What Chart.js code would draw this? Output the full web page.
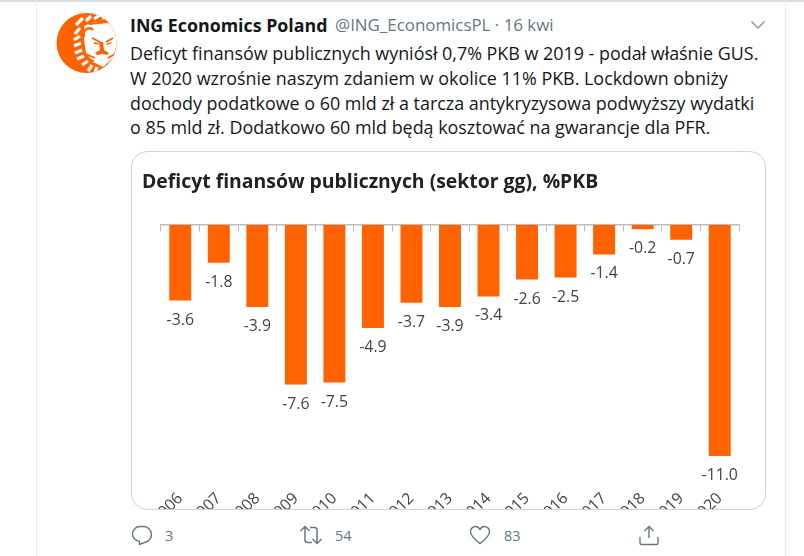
<!DOCTYPE html>
<html lang="pl"><head><meta charset="utf-8">
<script src="https://cdn.jsdelivr.net/npm/chart.js@4"></script>
<style>
html,body{margin:0;padding:0;background:#fff;width:804px;height:556px;overflow:hidden;font-family:"Open Sans",sans-serif}
.abs{position:absolute;white-space:nowrap}
#top{left:0;top:0;width:804px;height:2px;background:#d7dde1}
#vl,#vr{top:0;width:1px;height:556px;background:#e6ecf0}
#vl{left:36px}#vr{left:785px}
#name{left:130px;top:14px;font-size:17.8px;font-weight:700;color:#14171a;line-height:22px}
#handle{left:335px;top:14px;font-size:16.9px;color:#657786;line-height:22px}
.tw{left:130px;font-size:17.9px;color:#14171a;line-height:24px}
.cnt{font-size:14.500px;color:#657786;line-height:18px;top:527px}
#card{position:absolute;left:131px;top:151px;width:633px;height:357px;border:1px solid #ccd6dd;border-radius:16px;overflow:hidden;background:#fff}
#wrap{position:absolute;left:0;top:0;width:633px;height:390px}
</style></head><body>
<div class="abs" id="top"></div><div class="abs" id="vl"></div><div class="abs" id="vr"></div>
<svg class="abs" style="left:56px;top:13px" width="61" height="61" viewBox="0 0 61 61">
<defs><clipPath id="av"><circle cx="30.500" cy="30" r="30"/></clipPath></defs>
<circle cx="30.500" cy="30" r="30" fill="#ff6200"/>
<g clip-path="url(#av)">
<path d="M28 13L38 9 50 9 58 14 61 30 57 45 47 54 37 49 30 40 28 26z" fill="#fff"/>
<g fill="none" stroke="#fff" stroke-width="3.200">
<path d="M20 12L27 5M30 8L35 3M38 6L44 2M46 5L52 4"/>
<path d="M24 15L19 21M24 23L18 27M25 30L18 33M26 37L19 40M28 43L21 46M32 48L26 52M36 52L32 58M41 54L39 60"/>
</g>
<g fill="none" stroke="#ff6200" stroke-width="1.800">
<path d="M28 24C26 17 33 13 37 17" stroke-width="2.400"/>
<path d="M33 11L52 9"/>
<path d="M36 25L44 29M50 29L57 25"/>
<path d="M30 41L39 45M32 46L38 48M52 45L59 41"/>
</g>
<path d="M43 29h4l1 8 5 3-2 2-5-1-5 1-2-2 5-3z" fill="#ff6200"/>
<path d="M38 29l5 1-1 1.500-4-.5zM50 31l5-2v1.500l-4 1.500z" fill="#ff6200"/>
</g></svg>
<div class="abs" id="name">ING Economics Poland</div>
<div class="abs" id="handle">@ING_EconomicsPL · 16 kwi</div>
<svg class="abs" style="left:750px;top:19px" width="16" height="12" viewBox="0 0 16 12"><path d="M1.500 2.500L8 9l6.500-6.500" fill="none" stroke="#8b98a5" stroke-width="1.500"/></svg>
<div class="abs tw" style="top:41px">Deficyt finansów publicznych wyniósł 0,7% PKB w 2019 - podał właśnie GUS.</div>
<div class="abs tw" style="top:66px">W 2020 wzrośnie naszym zdaniem w okolice 11% PKB. Lockdown obniży</div>
<div class="abs tw" style="top:91px">dochody podatkowe o 60 mld zł a tarcza antykryzysowa podwyższy wydatki</div>
<div class="abs tw" style="top:115px">o 85 mld zł. Dodatkowo 60 mld będą kosztować na gwarancje dla PFR.</div>
<div id="card"><div id="wrap"><canvas id="c"></canvas></div></div>
<svg class="abs" style="left:131px;top:524px" width="22" height="22" viewBox="0 0 22 22"><path d="M9 2.500h4a8 8 0 0 1 1.500 15.700L8.500 20.500v-3.200A7.600 7.600 0 0 1 1.500 10 7.500 7.500 0 0 1 9 2.500z" fill="none" stroke="#657786" stroke-width="1.400" stroke-linejoin="round"/></svg>
<div class="abs cnt" style="left:165px">3</div>
<svg class="abs" style="left:299px;top:524px" width="24" height="22" viewBox="0 0 24 22"><path d="M1.500 7L6 2.500 10.500 7M6 3v13c0 1.500 1 2.500 2.500 2.500H13M22.500 15L18 19.500 13.500 15M18 19V6c0-1.500-1-2.500-2.500-2.500H11" fill="none" stroke="#657786" stroke-width="1.500"/></svg>
<div class="abs cnt" style="left:335px">54</div>
<svg class="abs" style="left:469px;top:525px" width="22" height="20" viewBox="0 0 22 20"><path d="M11 18.500C5 14 1.500 10.500 1.500 6.500 1.500 3.500 4 1.500 6.500 1.500c2 0 3.500 1 4.500 3 1-2 2.500-3 4.500-3 2.500 0 5 2 5 5 0 4-3.500 7.500-9.500 12z" fill="none" stroke="#657786" stroke-width="1.400"/></svg>
<div class="abs cnt" style="left:504px">83</div>
<svg class="abs" style="left:638px;top:524px" width="22" height="22" viewBox="0 0 22 22"><path d="M11 14V2.500M6.500 7L11 2.500 15.500 7M2 13v6c0 .8.600 1.500 1.500 1.500h15c.9 0 1.500-.7 1.500-1.500v-6" fill="none" stroke="#657786" stroke-width="1.400"/></svg>
<script>
const titleText = "Deficyt finansów publicznych (sektor gg), %PKB";
const years = ["2006","2007","2008","2009","2010","2011","2012","2013","2014","2015","2016","2017","2018","2019","2020"];
const deficit = [-3.6,-1.8,-3.9,-7.6,-7.5,-4.9,-3.7,-3.9,-3.4,-2.6,-2.5,-1.4,-0.2,-0.7,-11.0];
const barColor = "#ff6200";
const axisColor = "#bdbdbd";
const valueLabels = {
  id:"valueLabels",
  afterDatasetsDraw(chart){
    const {ctx}=chart;
    ctx.save();
    ctx.font='15.8px "Open Sans"';ctx.fillStyle="#444";ctx.textAlign="center";ctx.textBaseline="middle";
    chart.getDatasetMeta(0).data.forEach((bar,i)=>{ctx.fillText(deficit[i].toFixed(1),bar.x,bar.y+19.5);});
    ctx.restore();
  }
};
Chart.defaults.animation=false;
new Chart(document.getElementById("c"),{
  type:"bar",
  data:{labels:years,datasets:[{label:"Deficyt",data:deficit,backgroundColor:barColor,barPercentage:.57,categoryPercentage:1,xAxisID:"x",yAxisID:"y"}]},
  plugins:[valueLabels],
  options:{
    responsive:true,maintainAspectRatio:false,animation:false,
    layout:{padding:{left:10,right:26,top:13,bottom:0}},
    plugins:{
      legend:{display:false},tooltip:{enabled:false},
      title:{display:true,text:titleText,align:"start",color:"#222",font:{family:'"Open Sans"',size:19.4,weight:"700",lineHeight:"25px"},padding:{top:4.5,bottom:30.5}}
    },
    scales:{
      x:{type:"category",position:"bottom",grid:{display:false},border:{display:false},
        afterFit(s){s.height=60.8;},
        ticks:{color:"#444",font:{family:'"Open Sans"',size:15.8},minRotation:45,maxRotation:45,autoSkip:false,padding:0}},
      axisTop:{type:"category",axis:"x",position:{y:0},offset:true,
        grid:{drawOnChartArea:false,drawTicks:true,tickLength:6,color:axisColor,offset:true},
        border:{display:true,color:axisColor,width:1.500},ticks:{display:false}},
      y:{min:-12.2,max:0,position:"left",grid:{display:false},border:{display:false},
        afterFit(s){s.width=19;},ticks:{display:false}}
    }
  }
});
</script>
</body></html>
